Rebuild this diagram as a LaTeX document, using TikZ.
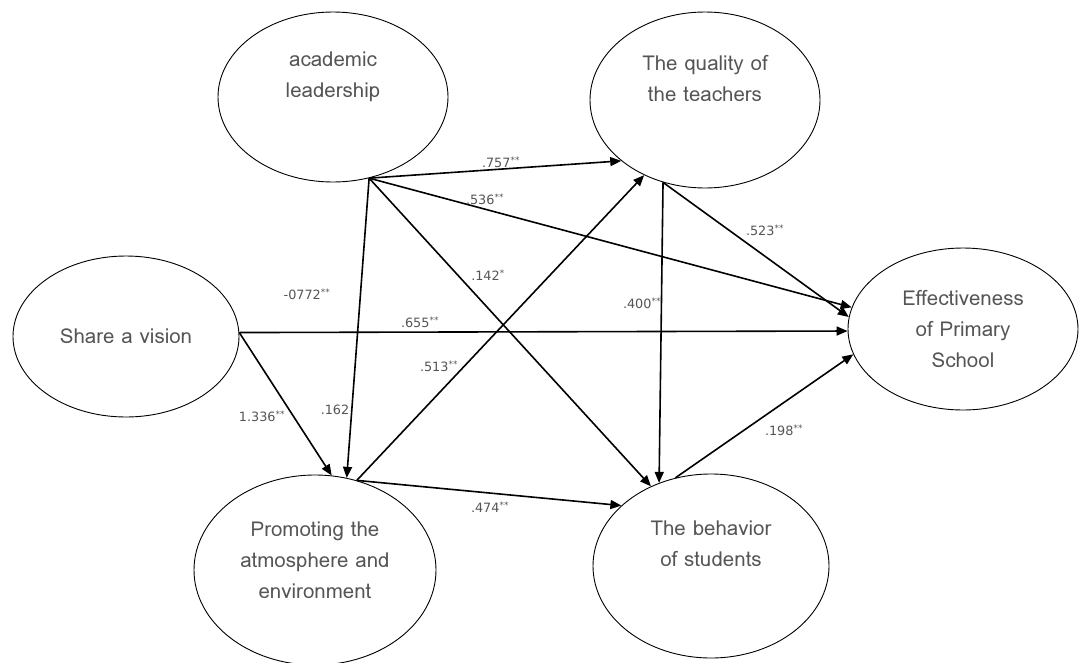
\documentclass[tikz,border=0pt]{standalone}
\usepackage{fontspec}
\setmainfont{Loma}[Script=Thai]
\newfontfamily\coeffont{DejaVu Sans}
\usetikzlibrary{shapes.geometric,arrows.meta}
\definecolor{txtgrey}{RGB}{85,85,85}
\tikzset{
  latent/.style={draw=black, line width=0.9pt, ellipse, inner sep=0pt},
  path/.style={line width=1.6pt, -{Triangle[length=11pt,width=9pt]}},
  coef/.style={text=txtgrey, font=\coeffont\fontsize{12.8}{15}\selectfont, inner sep=1pt},
  vname/.style={text=txtgrey, font=\fontsize{20.5}{31}\selectfont, align=center}
}
\newcommand{\st}[1]{\textsuperscript{#1}}
\begin{document}
\begin{tikzpicture}[x=1pt,y=-1pt]
\useasboundingbox (0,0) rectangle (1079,662);
\node[latent, minimum width=230pt, minimum height=170pt,
  label={[vname, yshift=20pt]center:academic\\leadership}] (al) at (333,97) {};
\node[latent, minimum width=230pt, minimum height=176pt,
  label={[vname, yshift=22pt]center:The quality of\\the teachers}] (qt) at (705,100) {};
\node[latent, minimum width=226pt, minimum height=161pt,
  label={[vname]center:Share a vision}] (sv) at (126,336.5) {};
\node[latent, minimum width=230pt, minimum height=162pt,
  label={[vname]center:Effectiveness\\of Primary\\School}] (ef) at (963,329) {};
\node[latent, minimum width=242pt, minimum height=190pt,
  label={[vname, yshift=10pt]center:Promoting the\\atmosphere and\\environment}] (pr) at (315,570) {};
\node[latent, minimum width=236pt, minimum height=184pt,
  label={[vname, yshift=22pt]center:The behavior\\of students}] (bs) at (711,566) {};

% paths
\draw[path] (al.-66) -- (qt.216);
\draw[path] (al.-66) -- (ef.169);
\draw[path] (al.-66) -- (bs.127);
\draw[path] (al.-66) -- (pr.71);
\draw[path] (sv.2) -- (ef.181.5);
\draw[path] (sv.2) -- (pr.80);
\draw[path] (pr.65) -- (qt.231);
\draw[path] (pr.65) -- (bs.146);
\draw[path] (qt.243) -- (bs.122);
\draw[path] (qt.243) -- (ef.174.6);
\draw[path] (bs.112) -- (ef.193.7);

% coefficients
\node[coef] (c1) at (501,162) {.757\st{**}};
\node[coef] (c2) at (485,199) {.536\st{**}};
\node[coef] (c3) at (488,275) {.142\st{*}};
\node[coef] (c4) at (307,294) {-0772\st{**}};
\node[coef] (c5) at (420,322) {.655\st{**}};
\node[coef] (c6) at (439,366) {.513\st{**}};
\node[coef] (c7) at (262,416) {1.336\st{**}};
\node[coef] (c8) at (335,410) {.162};
\node[coef] (c9) at (490,507) {.474\st{**}};
\node[coef] (c10) at (642,303) {.400\st{**}};
\node[coef] (c11) at (765,230) {.523\st{**}};
\node[coef] (c12) at (784,430) {.198\st{**}};
\end{tikzpicture}
\end{document}
